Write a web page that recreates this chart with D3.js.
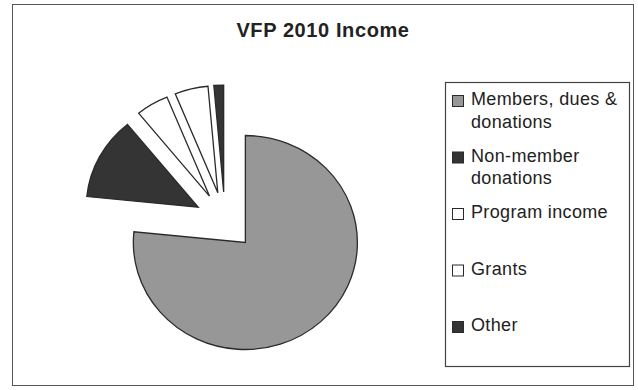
<!DOCTYPE html>
<html>
<head>
<meta charset="utf-8">
<script src="https://cdn.jsdelivr.net/npm/d3@7"></script>
<style>
  body { margin: 0; background: #fff; }
  text { font-family: "Liberation Sans", Arial, sans-serif; fill: #222; }
</style>
</head>
<body>
<svg id="chart" width="638" height="390"></svg>
<script>
const categories = ['Members, dues & donations', 'Non-member donations', 'Program income', 'Grants', 'Other'];
const shares = [76.6, 12.5, 4.7, 4.8, 1.4];
const fills = ['#979797', '#343434', '#ffffff', '#ffffff', '#343434'];
const legendLines = [['Members, dues &', 'donations'], ['Non-member', 'donations'], ['Program income'], ['Grants'], ['Other']];

const svg = d3.select('#chart');

// chart frame
svg.append('rect')
  .attr('x', 12.5).attr('y', 4.5)
  .attr('width', 621).attr('height', 381)
  .attr('fill', '#fff')
  .attr('stroke', '#555')
  .attr('stroke-width', 1);

svg.append('text')
  .attr('x', 323).attr('y', 37)
  .attr('text-anchor', 'middle')
  .style('font-size', '20px')
  .style('font-weight', 'bold')
  .style('letter-spacing', '0.6px')
  .text('VFP 2010 Income');

// pie (scan is a bit wider than tall, so stretch x)
const radius = 107;
const stretchX = 1.047;
const explode = 29;

const pie = d3.pie().sort(null).value(d => d);
const arc = d3.arc().innerRadius(0).outerRadius(radius);
const slices = pie(shares);

const pieGroup = svg.append('g')
  .attr('transform', `translate(225,221) scale(${stretchX},1)`);

pieGroup.selectAll('path')
  .data(slices)
  .enter()
  .append('path')
  .attr('d', arc)
  .attr('transform', s => {
    const mid = (s.startAngle + s.endAngle) / 2;
    return `translate(${explode * Math.sin(mid)},${-explode * Math.cos(mid)})`;
  })
  .attr('fill', (s, i) => fills[i])
  .attr('stroke', '#2a2a2a')
  .attr('stroke-width', 1.3)
  .attr('vector-effect', 'non-scaling-stroke');

// legend
svg.append('rect')
  .attr('x', 445.5).attr('y', 82.5)
  .attr('width', 184).attr('height', 284)
  .attr('fill', 'none')
  .attr('stroke', '#444')
  .attr('stroke-width', 1.2);

const legendTop = [105, 161.5, 218, 274.5, 331];

const items = svg.selectAll('g.item')
  .data(categories)
  .enter()
  .append('g')
  .attr('class', 'item')
  .attr('transform', (d, i) => `translate(0,${legendTop[i]})`);

items.append('rect')
  .attr('x', 452.5).attr('y', -9.5)
  .attr('width', 11).attr('height', 11)
  .attr('fill', (d, i) => fills[i])
  .attr('stroke', '#2a2a2a')
  .attr('stroke-width', 1);

items.each(function (d, i) {
  d3.select(this).selectAll('text')
    .data(legendLines[i])
    .enter()
    .append('text')
    .attr('x', 471)
    .attr('y', (line, j) => j * 22.5)
    .style('font-size', '18px')
    .style('letter-spacing', '0.35px')
    .text(line => line);
});
</script>
</body>
</html>
